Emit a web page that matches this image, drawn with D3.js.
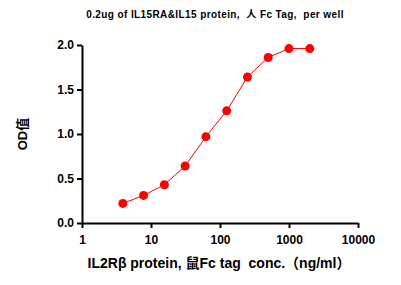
<!DOCTYPE html>
<html>
<head>
<meta charset="utf-8">
<script src="https://cdn.jsdelivr.net/npm/d3@7"></script>
<style>
  body { margin: 0; background: #fff; }
  text { font-family: "Liberation Sans", Arial, "Noto Sans CJK SC", sans-serif; }
</style>
</head>
<body>
<div id="chart"></div>
<script>
const concentrations = [3.906, 7.8125, 15.625, 31.25, 62.5, 125, 250, 500, 1000, 2000];
const odValues = [0.22, 0.31, 0.43, 0.64, 0.97, 1.26, 1.64, 1.86, 1.96, 1.96];
const xTicks = [1, 10, 100, 1000, 10000];
const yTicks = [0, 0.5, 1.0, 1.5, 2.0];

const width = 401, height = 285;
const margin = { left: 82, right: 43, top: 45, bottom: 62 };

const svg = d3.select("#chart").append("svg")
  .attr("width", width)
  .attr("height", height);

const x = d3.scaleLog().domain([1, 10000]).range([margin.left, width - margin.right]);
const y = d3.scaleLinear().domain([0, 2]).range([height - margin.bottom, margin.top]);

// x axis
const xAxis = svg.append("g")
  .attr("transform", `translate(0,${y(0)})`)
  .call(d3.axisBottom(x).tickValues(xTicks).tickFormat(d3.format("d")).tickSize(5).tickSizeOuter(0));

// y axis
const yAxis = svg.append("g")
  .attr("transform", `translate(${x(1)},0)`)
  .call(d3.axisLeft(y).tickValues(yTicks).tickFormat(d3.format(".1f")).tickSize(5).tickSizeOuter(0));

[xAxis, yAxis].forEach((g) => {
  g.select(".domain").attr("stroke", "#000").attr("stroke-width", 2);
  g.selectAll(".tick line").attr("stroke", "#000").attr("stroke-width", 2);
  g.selectAll(".tick text")
    .attr("font-size", 12)
    .attr("font-weight", "bold")
    .attr("fill", "#000");
});
xAxis.selectAll(".tick text").attr("dy", "1.1em");

// line + points
const line = d3.line()
  .x((d, i) => x(concentrations[i]))
  .y((d) => y(d));

svg.append("path")
  .datum(odValues)
  .attr("d", line)
  .attr("fill", "none")
  .attr("stroke", "#ff0000")
  .attr("stroke-width", 1);

svg.append("g")
  .selectAll("circle")
  .data(odValues)
  .join("circle")
  .attr("cx", (d, i) => x(concentrations[i]))
  .attr("cy", (d) => y(d))
  .attr("r", 4.5)
  .attr("fill", "#ff0000");

// title
svg.append("text")
  .attr("x", 215)
  .attr("y", 18)
  .attr("text-anchor", "middle")
  .attr("font-size", 10)
  .attr("font-weight", "bold")
  .attr("letter-spacing", 0.4)
  .attr("xml:space", "preserve")
  .style("white-space", "pre")
  .text("0.2ug of IL15RA&IL15 protein,  人 Fc Tag,  per well");

// x title
svg.append("text")
  .attr("x", 219)
  .attr("y", 268)
  .attr("text-anchor", "middle")
  .attr("font-size", 14)
  .attr("font-weight", "bold")
  .attr("xml:space", "preserve")
  .style("white-space", "pre")
  .text("IL2Rβ protein, 鼠Fc tag  conc.（ng/ml）");

// y title
svg.append("text")
  .attr("transform", `translate(27,${(y(0) + y(2)) / 2}) rotate(-90)`)
  .attr("text-anchor", "middle")
  .attr("font-size", 13)
  .attr("font-weight", "bold")
  .text("OD值");
</script>
</body>
</html>
